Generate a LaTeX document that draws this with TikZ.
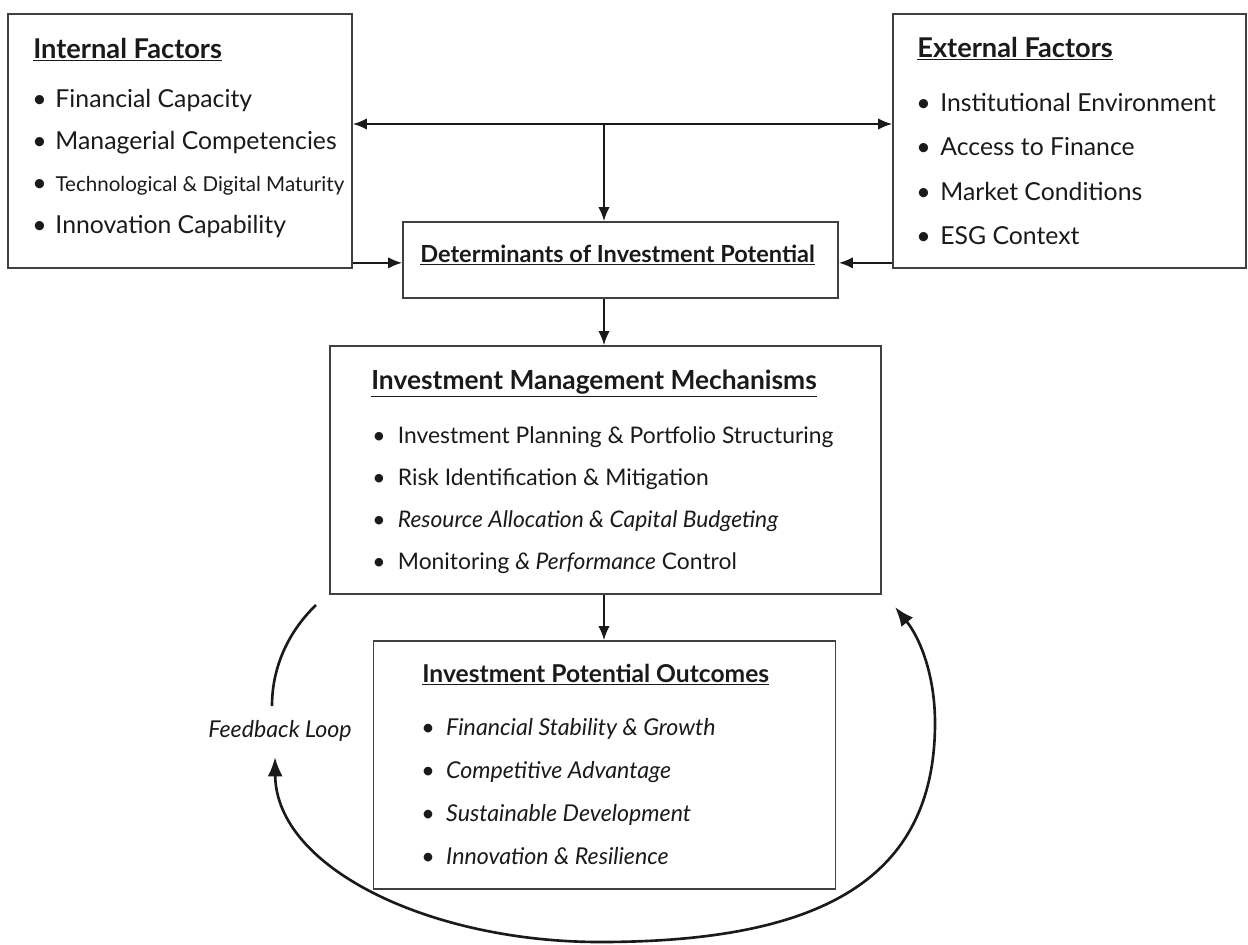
\documentclass[tikz,border=0pt]{standalone}
\usepackage{fontspec}
\setmainfont{Lato}
\usetikzlibrary{positioning,arrows.meta}

\definecolor{inkc}{HTML}{1A1A1A}
\newcommand{\boxhead}[1]{\underline{\textbf{#1}}}

\begin{document}
\begin{tikzpicture}[>={Latex[length=8pt,width=6.5pt]}, x=0.02cm, y=-0.02cm, inkc,
  box/.style={draw=black!75, line width=1pt, inner sep=0pt},
  head/.style={anchor=base west, inner sep=0pt, font=\fontsize{15.5}{18}\selectfont},
  item/.style={anchor=base west, inner sep=0pt, font=\fontsize{14.1}{17}\selectfont},
  link/.style={->, line width=1.1pt},
  loopline/.style={line width=1.5pt, >={Latex[length=11pt,width=8.5pt]}}]
    \useasboundingbox (0,0) rectangle (1248,944);
    % boxes
    \node[box, minimum width=6.88cm, minimum height=5.08cm] (int) at (180,141) {};
    \node[box, minimum width=7.06cm, minimum height=5.08cm] (ext) at (1069.5,141) {};
    \node[box, minimum width=8.70cm, minimum height=1.52cm] (det) at (620.5,260) {};
    \node[box, minimum width=11.02cm, minimum height=4.96cm] (mech) at (605.5,470) {};
    \node[box, minimum width=9.24cm, minimum height=4.96cm] (out) at (604.5,765) {};
    % titles
    \node[head] (int-head) at (33,58) {\boxhead{Internal Factors}};
    \node[head] (ext-head) at (917,57) {\boxhead{External Factors}};
    \node[head, font=\fontsize{13.4}{16}\selectfont] (det-head) at (420,262) {\boxhead{Determinants of Investment Potential}};
    \node[head, font=\fontsize{15}{18}\selectfont] (mech-head) at (371,389) {\boxhead{Investment Management Mechanisms}};
    \node[head, font=\fontsize{14}{17}\selectfont] (out-head) at (422,682) {\boxhead{Investment Potential Outcomes}};
    % lists
    \foreach \t [count=\i] in {Financial Capacity, Managerial Competencies,
        {\fontsize{11.7}{14}\selectfont Technological \& Digital Maturity}, Innovation Capability}
      \node[item] (int-\i) at (32,65+42*\i) {\textbullet\hspace{5pt}\t};
    \foreach \t [count=\i] in {Institutional Environment, Access to Finance,
        Market Conditions, ESG Context}
      \node[item] (ext-\i) at (916,66.5+44.5*\i) {\textbullet\hspace{5.5pt}\t};
    \foreach \t [count=\i] in {Investment Planning \& Portfolio Structuring,
        Risk Identification \& Mitigation,
        \textit{Resource Allocation \& Capital Budgeting},
        Monitoring \textit{\& Performance} Control}
      \node[item, font=\fontsize{13}{16}\selectfont] (mech-\i) at (372,401+42*\i) {\textbullet\hspace{7pt}\t};
    \foreach \t [count=\i] in {Financial Stability \& Growth, Competitive Advantage,
        Sustainable Development, Innovation \& Resilience}
      \node[item, font=\fontsize{13.2}{16}\selectfont] (out-\i) at (421,692+43*\i) {\textbullet\hspace{6.5pt}\textit{\t}};
    % connectors
    \coordinate (top) at (604,124);
    \draw[<->, line width=1.1pt] (int.east |- top) -- (ext.west |- top);
    \draw[link] (top) -- (top |- det.north);
    \coordinate (inl) at ([yshift=0.12cm]int.south east);
    \coordinate (exl) at ([yshift=0.12cm]ext.south west);
    \draw[link] (inl) -- (inl -| det.west);
    \draw[link] (exl) -- (exl -| det.east);
    \draw[link] (top |- det.south) -- (top |- mech.north);
    \draw[link] (top |- mech.south) -- (top |- out.north);
    % feedback loop
    \coordinate (fb-a) at (316,605);
    \coordinate (fb-b) at (272,706);
    \coordinate (fb-c) at (275,757);
    \coordinate (fb-d) at (895,607);
    \node[font=\fontsize{13.2}{16}\selectfont\itshape] (fb) at (280,731) {Feedback Loop};
    \draw[loopline] (fb-a) .. controls (290,630) and (272,665) .. (fb-b);
    \draw[loopline, <->] (fb-c) .. controls (276,868) and (430,942) .. (600,942)
        .. controls (820,942) and (935,880) .. (935,723)
        .. controls (935,675) and (920,638) .. (fb-d);
\end{tikzpicture}
\end{document}
